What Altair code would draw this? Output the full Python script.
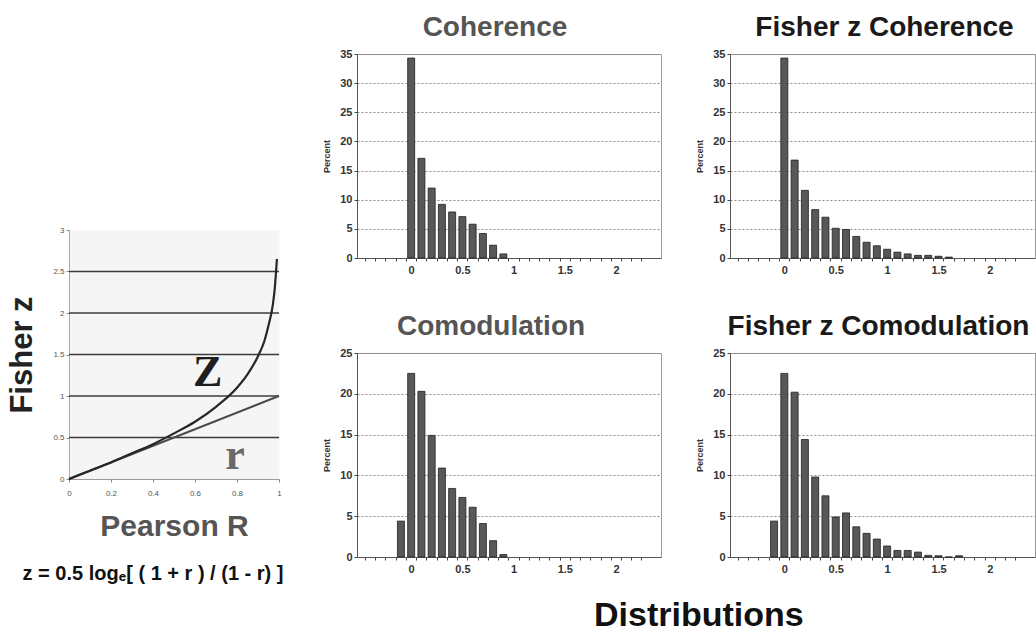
import altair as alt
import pandas as pd

# ---------------- data ----------------
# Left panel: Fisher z curve vs Pearson r
pearson_r = [0.0, 0.1, 0.2, 0.3, 0.4, 0.5, 0.6, 0.7, 0.8, 0.85, 0.9, 0.93, 0.95, 0.97, 0.98, 0.99]
fisher_z = [0.0, 0.10, 0.20, 0.31, 0.42, 0.55, 0.69, 0.87, 1.10, 1.26, 1.48, 1.66, 1.85, 2.09, 2.30, 2.65]
identity_r = [0.0, 1.0]
identity_z = [0.0, 1.0]
left_grid_levels = [0.5, 1.0, 1.5, 2.0, 2.5]
left_x_ticks = [0, 0.2, 0.4, 0.6, 0.8, 1]
left_y_ticks = [0, 0.5, 1, 1.5, 2, 2.5, 3]
curve_labels = ["Z", "r"]
curve_label_r = [0.66, 0.79]
curve_label_z = [1.12, 0.12]
curve_label_colors = ["#1e1e1e", "#6a6a6a"]

# Histograms (percent per 0.1 bin)
coh_bins = [0.0, 0.1, 0.2, 0.3, 0.4, 0.5, 0.6, 0.7, 0.8, 0.9]
coh_pct = [34.3, 17.1, 12.0, 9.2, 7.9, 7.1, 5.8, 4.2, 2.2, 0.7]

fzcoh_bins = [0.0, 0.1, 0.2, 0.3, 0.4, 0.5, 0.6, 0.7, 0.8, 0.9, 1.0, 1.1, 1.2, 1.3, 1.4, 1.5, 1.6]
fzcoh_pct = [34.3, 16.8, 11.6, 8.3, 7.0, 5.1, 4.9, 3.7, 2.7, 2.1, 1.5, 1.0, 0.7, 0.45, 0.45, 0.3, 0.15]

com_bins = [-0.1, 0.0, 0.1, 0.2, 0.3, 0.4, 0.5, 0.6, 0.7, 0.8, 0.9]
com_pct = [4.4, 22.5, 20.3, 14.9, 10.9, 8.4, 7.3, 6.1, 4.1, 2.0, 0.3]

fzcom_bins = [-0.1, 0.0, 0.1, 0.2, 0.3, 0.4, 0.5, 0.6, 0.7, 0.8, 0.9, 1.0, 1.1, 1.2, 1.3, 1.4, 1.5, 1.6, 1.7]
fzcom_pct = [4.4, 22.5, 20.2, 14.4, 9.8, 7.5, 4.9, 5.4, 3.7, 2.9, 2.2, 1.35, 0.8, 0.8, 0.6, 0.2, 0.15, 0.0, 0.15]

hist_x_ticks = [-0.4, -0.3, -0.2, -0.1, 0.0, 0.1, 0.2, 0.3, 0.4, 0.5, 0.6, 0.7, 0.8, 0.9, 1.0,
                1.1, 1.2, 1.3, 1.4, 1.5, 1.6, 1.7, 1.8, 1.9, 2.0, 2.1, 2.2, 2.3]
hist_x_domain = [-0.48, 2.39]

FONT = "Liberation Sans"

# ---------------- left panel ----------------
curve_df = pd.DataFrame({"r": pearson_r, "z": fisher_z})
ident_df = pd.DataFrame({"r": identity_r, "z": identity_z})
grid_df = pd.DataFrame({"level": left_grid_levels})
lab_df = pd.DataFrame({"label": curve_labels, "r": curve_label_r, "z": curve_label_z,
                       "c": curve_label_colors})

lx = alt.Scale(domain=[0, 1], nice=False)
ly = alt.Scale(domain=[0, 3], nice=False)

x_axis_left = alt.Axis(values=left_x_ticks, format="~g", title="Pearson R", titleFontSize=30, titleFont=FONT,
                       titleFontWeight="bold", titleColor="#555555", titlePadding=14,
                       labelFontSize=8, labelColor="#555555", labelPadding=7, tickSize=3,
                       tickColor="#888888", domainColor="#999999", grid=False, labelFlush=False)
y_axis_left = alt.Axis(values=left_y_ticks, format="~g", title="Fisher z", titleFontSize=31, titleFont=FONT,
                       titleFontWeight="bold", titleColor="#222222", titlePadding=14,
                       labelFontSize=8, labelColor="#555555", labelPadding=2, tickSize=3,
                       tickColor="#888888", domainColor="#aaaaaa", grid=False, labelFlush=False)

grid_rules = alt.Chart(grid_df).mark_rule(color="#3c3c3c", strokeWidth=1.4).encode(
    y=alt.Y("level:Q", scale=ly, axis=y_axis_left)
)
ident_line = alt.Chart(ident_df).mark_line(color="#4a4a4a", strokeWidth=2).encode(
    x=alt.X("r:Q", scale=lx, axis=x_axis_left),
    y=alt.Y("z:Q", scale=ly, axis=y_axis_left),
)
curve_line = alt.Chart(curve_df).mark_line(color="#262626", strokeWidth=2.2, interpolate="monotone").encode(
    x=alt.X("r:Q", scale=lx, axis=x_axis_left),
    y=alt.Y("z:Q", scale=ly, axis=y_axis_left),
)
curve_text = alt.Chart(lab_df).mark_text(font="Liberation Serif", fontWeight="bold", fontSize=44,
                                         align="center", baseline="alphabetic").encode(
    x=alt.X("r:Q", scale=lx, axis=x_axis_left),
    y=alt.Y("z:Q", scale=ly, axis=y_axis_left),
    text="label:N",
    color=alt.Color("c:N", scale=None, legend=None),
)

left_plot = alt.layer(grid_rules, ident_line, curve_line, curve_text).properties(
    width=210, height=249,
    view=alt.ViewBackground(fill="#f5f5f5", strokeOpacity=0),
    title=alt.TitleParams(text="z = 0.5 log\u2091[ ( 1 + r ) / (1 - r) ]", orient="bottom",
                          anchor="middle", frame="group", dx=-21, fontSize=20, font=FONT,
                          fontWeight="bold", color="#111111", offset=23),
)

spacer = alt.Chart(pd.DataFrame({"v": [""]})).mark_text(opacity=0).encode(
    text="v:N"
).properties(width=40, height=152, view=alt.ViewBackground(strokeOpacity=0))

left_col = alt.vconcat(spacer, left_plot, spacing=20)


# ---------------- histograms ----------------
def hist(bins, pct, title, title_color, ymax, tdx, width):
    df = pd.DataFrame({"bin": bins, "pct": pct})
    xscale = alt.Scale(domain=hist_x_domain, nice=False, zero=False)
    yscale = alt.Scale(domain=[0, ymax], nice=False)
    x_axis = alt.Axis(values=hist_x_ticks, title=None, grid=False,
                      labelExpr="(datum.value >= 0 && abs(datum.value*2 - round(datum.value*2)) < 0.001) ? format(datum.value, '.1~f') : ''",
                      labelFontSize=11, labelFont=FONT, labelColor="#333333", labelFontWeight="bold",
                      tickSize=3, tickColor="#444444", tickOffset=-5.3, labelOffset=5.3,
                      labelPadding=3, domainColor="#555555", labelFlush=False)
    y_axis = alt.Axis(values=list(range(0, ymax + 1, 5)), title="Percent", titleFontSize=9,
                      titleFont=FONT, titleFontWeight="bold", titleColor="#333333", titlePadding=8,
                      labelFontSize=11, labelFont=FONT, labelFontWeight="bold", labelColor="#333333",
                      tickSize=3, tickColor="#444444", labelPadding=2, domainColor="#555555",
                      grid=True, gridDash=[2, 2], gridColor="#8a8a8a", gridWidth=1)
    chart = alt.Chart(df).mark_bar(size=7, color="#585858", stroke="#202020", strokeWidth=0.8).encode(
        x=alt.X("bin:Q", scale=xscale, axis=x_axis),
        y=alt.Y("pct:Q", scale=yscale, axis=y_axis),
    ).properties(
        width=width, height=204,
        view=alt.ViewBackground(stroke="#9a9a9a", strokeWidth=1),
        title=alt.TitleParams(text=title, anchor="middle", frame="group", dx=tdx, fontSize=28,
                              font=FONT, fontWeight="bold", color=title_color, offset=6),
    )
    return chart


h_coh = hist(coh_bins, coh_pct, "Coherence", "#555555", 35, -14, 304)
h_fzcoh = hist(fzcoh_bins, fzcoh_pct, "Fisher z Coherence", "#1a1a1a", 35, 2, 305)
h_com = hist(com_bins, com_pct, "Comodulation", "#555555", 25, -18, 304)
h_fzcom = hist(fzcom_bins, fzcom_pct, "Fisher z Comodulation", "#1a1a1a", 25, -4, 305)

right_grid = alt.vconcat(
    alt.hconcat(h_coh, h_fzcoh, spacing=33),
    alt.hconcat(h_com, h_fzcom, spacing=33),
    spacing=36,
    title=alt.TitleParams(text="Distributions", orient="bottom", anchor="middle", dx=20,
                          fontSize=34, font=FONT, fontWeight="bold", color="#111111", offset=24),
)

chart = alt.hconcat(left_col, right_grid, spacing=38).properties(
    padding={"left": 6, "top": 13, "right": 0, "bottom": 0},
    background="white",
).configure(font=FONT)

chart.save("out.html", embed_options={"renderer": "svg", "actions": False})
